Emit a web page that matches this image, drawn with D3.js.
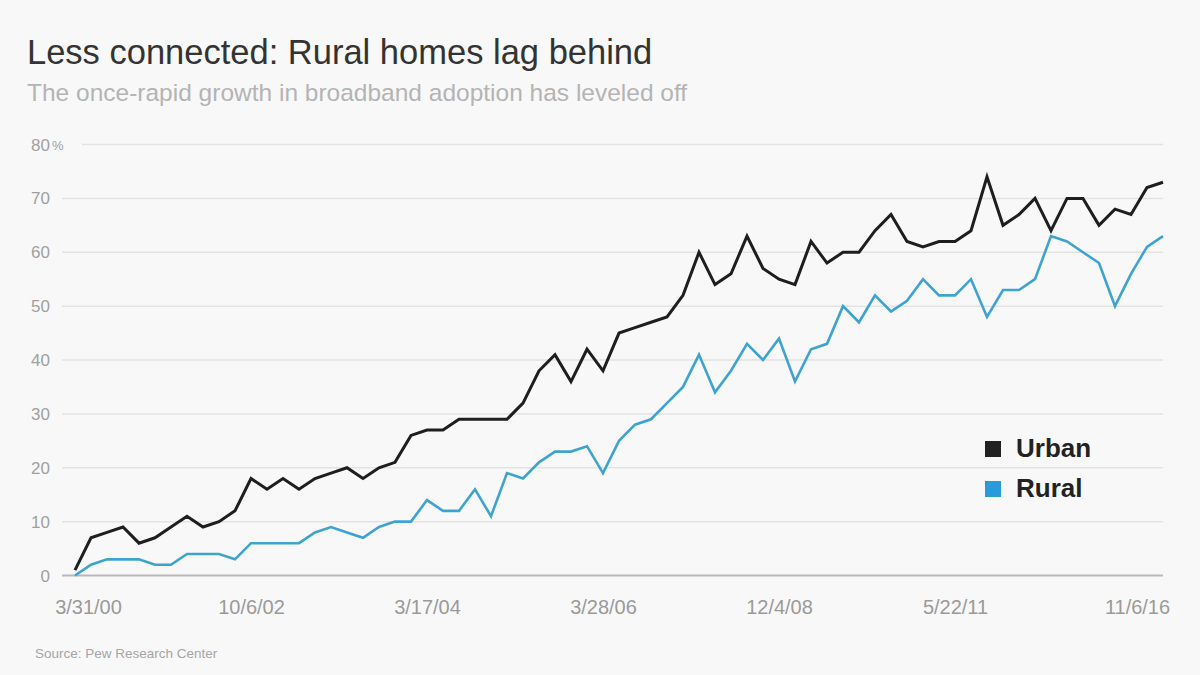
<!DOCTYPE html>
<html>
<head>
<meta charset="utf-8">
<script src="https://cdn.jsdelivr.net/npm/d3@7"></script>
<style>
  body { margin: 0; background: #f8f8f8; }
  svg { display: block; font-family: "Liberation Sans", Arial, sans-serif; }
</style>
</head>
<body>
<div id="chart"></div>
<script>
// survey points, evenly spaced (index on the x axis)
const urban = [1, 7, 8, 9, 6, 7, 9, 11, 9, 10, 12, 18, 16, 18, 16, 18, 19, 20, 18, 20, 21,
  26, 27, 27, 29, 29, 29, 29, 32, 38, 41, 36, 42, 38, 45, 46, 47, 48, 52, 60, 54, 56, 63, 57, 55,
  54, 62, 58, 60, 60, 64, 67, 62, 61, 62, 62, 64, 74, 65, 67, 70, 64, 70, 70, 65, 68, 67, 72, 73]
const rural = [0, 2, 3, 3, 3, 2, 2, 4, 4, 4, 3, 6, 6, 6, 6, 8, 9, 8, 7, 9, 10,
  10, 14, 12, 12, 16, 11, 19, 18, 21, 23, 23, 24, 19, 25, 28, 29, 32, 35, 41, 34, 38, 43, 40, 44,
  36, 42, 43, 50, 47, 52, 49, 51, 55, 52, 52, 55, 48, 53, 53, 55, 63, 62, 60, 58, 50, 56, 61, 63]
const tickIdx = [0, 11, 22, 33, 44, 55, 68]
const tickLabels = ["3/31/00", "10/6/02", "3/17/04", "3/28/06", "12/4/08", "5/22/11", "11/6/16"]
const yTicks = [0, 10, 20, 30, 40, 50, 60, 70, 80]
const series = [
  { name: "Urban", values: urban, color: "#1e1e1e", width: 3 },
  { name: "Rural", values: rural, color: "#3fa3d2", width: 2.6 }
]

const W = 1200, H = 675
const svg = d3.select("#chart").append("svg")
  .attr("width", W)
  .attr("height", H)

svg.append("rect").attr("width", W).attr("height", H).attr("fill", "#f8f8f8")

const x = d3.scaleLinear().domain([0, urban.length - 1]).range([75, 1163])
const y = d3.scaleLinear().domain([0, 80]).range([575.5, 144.5])

// titles
svg.append("text")
  .attr("x", 27).attr("y", 64)
  .attr("font-size", 34.5)
  .attr("fill", "#333")
  .text("Less connected: Rural homes lag behind")
svg.append("text")
  .attr("x", 27).attr("y", 101)
  .attr("font-size", 24.5)
  .attr("fill", "#b4b4b4")
  .text("The once-rapid growth in broadband adoption has leveled off")

// gridlines + y labels
const grid = svg.append("g")
grid.selectAll("line")
  .data(yTicks.filter(d => d > 0))
  .enter().append("line")
  .attr("x1", d => d === 80 ? 82 : 62)
  .attr("x2", 1163)
  .attr("y1", d => y(d)).attr("y2", d => y(d))
  .attr("stroke", "#e3e3e3")
  .attr("stroke-width", 1.5)

grid.selectAll("text")
  .data(yTicks)
  .enter().append("text")
  .attr("x", 50)
  .attr("y", d => y(d) + 6)
  .attr("text-anchor", "end")
  .attr("font-size", 17)
  .attr("fill", "#a0a0a0")
  .text(d => d)
svg.append("text")
  .attr("x", 52).attr("y", y(80) + 5)
  .attr("font-size", 13)
  .attr("fill", "#a0a0a0")
  .text("%")

// baseline
svg.append("line")
  .attr("x1", 62).attr("x2", 1163)
  .attr("y1", y(0)).attr("y2", y(0))
  .attr("stroke", "#b9b9b9")
  .attr("stroke-width", 2)

// x axis labels
const xAxis = svg.append("g")
  .attr("transform", "translate(0," + y(0) + ")")
  .call(d3.axisBottom(x)
    .tickValues(tickIdx)
    .tickSize(0)
    .tickPadding(0)
    .tickFormat((d, i) => tickLabels[i]))
xAxis.select(".domain").remove()
xAxis.selectAll("text")
  .attr("y", 38)
  .attr("dy", 0)
  .attr("font-size", 20)
  .attr("font-family", "Liberation Sans, Arial, sans-serif")
  .attr("fill", "#9a9a9a")
  .attr("dx", (d, i) => i === 0 ? 13 : (i === tickIdx.length - 1 ? -26 : 0))

// lines
const line = d3.line()
  .x((d, i) => x(i))
  .y(d => y(d))

svg.selectAll(".series")
  .data(series.slice().reverse())
  .enter().append("path")
  .attr("class", "series")
  .attr("d", d => line(d.values))
  .attr("fill", "none")
  .attr("stroke", d => d.color)
  .attr("stroke-width", d => d.width)
  .attr("stroke-linejoin", "miter")

// legend
const legend = svg.append("g").attr("transform", "translate(985,441)")
const item = legend.selectAll("g")
  .data(series)
  .enter().append("g")
  .attr("transform", (d, i) => "translate(0," + i * 40 + ")")
item.append("rect")
  .attr("width", 16).attr("height", 16)
  .attr("fill", (d, i) => i === 0 ? "#222" : "#2a9bd8")
item.append("text")
  .attr("x", 31).attr("y", 16)
  .attr("font-size", 26)
  .attr("font-weight", "bold")
  .attr("fill", "#222")
  .text(d => d.name)

// source
svg.append("text")
  .attr("x", 35).attr("y", 658)
  .attr("font-size", 13.5)
  .attr("fill", "#a5a5a5")
  .text("Source: Pew Research Center")
</script>
</body>
</html>
